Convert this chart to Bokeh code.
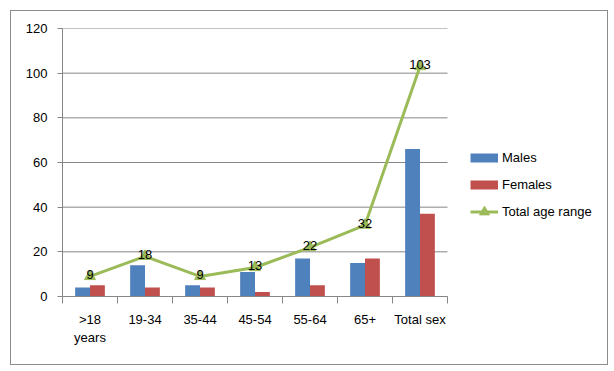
import numpy as np
from bokeh.plotting import figure
from bokeh.models import ColumnDataSource, FixedTicker, Legend, LegendItem, Range1d, InlineStyleSheet
from bokeh.core.properties import value
from bokeh.embed import file_html
from bokeh.resources import INLINE

categories = [">18\nyears", "19-34", "35-44", "45-54", "55-64", "65+", "Total sex"]
males = [4, 14, 5, 11, 17, 15, 66]
females = [5, 4, 4, 2, 5, 17, 37]
total_age_range = [9, 18, 9, 13, 22, 32, 103]
y_ticks = [0, 20, 40, 60, 80, 100, 120]

FONT = "Liberation Sans"
FS = "13px"
GRAY = "#868686"
C_M, C_F, C_T = "#4F81BD", "#C0504D", "#9BBB59"

n = len(categories)
centers = np.arange(n) + 0.5
bw = 0.27

src = ColumnDataSource(dict(
    xm=centers - bw / 2, xf=centers + bw / 2, xc=centers,
    males=males, females=females, total=total_age_range,
    lab=[str(v) for v in total_age_range],
))

W, H = 612, 369
LEFT, RIGHT_AXIS_END, TOP, BOTTOM = 62, 447, 28, 296
FRAME_RIGHT = W - 8
x_end = n * (FRAME_RIGHT - LEFT) / (RIGHT_AXIS_END - LEFT)

border_css = InlineStyleSheet(css=""":host::after { content: ""; position: absolute; left: 10px; top: 10px;
 width: 598px; height: 355px; border: 1px solid #8c8c8c; pointer-events: none; box-sizing: border-box; }""")

p = figure(width=W, height=H, output_backend="svg", toolbar_location=None,
           x_range=Range1d(0, x_end), y_range=Range1d(0, 120),
           min_border_left=LEFT, min_border_right=W - FRAME_RIGHT, min_border_top=TOP,
           min_border_bottom=H - BOTTOM, stylesheets=[border_css])
p.outline_line_color = None
p.background_fill_color = "white"
p.border_fill_color = "white"

# horizontal gridlines limited to the category span
p.xgrid.visible = False
p.ygrid.visible = False
p.segment(x0=[0] * len(y_ticks), x1=[n] * len(y_ticks), y0=y_ticks, y1=y_ticks,
          line_color=GRAY, line_width=1, level="underlay")

p.vbar(x="xm", top="males", width=bw, source=src, fill_color=C_M, line_color=None)
p.vbar(x="xf", top="females", width=bw, source=src, fill_color=C_F, line_color=None)
rl = p.line(x="xc", y="total", source=src, line_color=C_T, line_width=3)
rt = p.scatter(x="xc", y="total", source=src, marker="triangle", size=11,
               fill_color=C_T, line_color=C_T)
p.text(x="xc", y="total", text="lab", source=src, text_align="center", text_baseline="middle",
       y_offset=-2, text_font=value(FONT), text_font_size=FS, text_color="black")

# legend proxies (not drawn in the plot: NaN values)
nan = float("nan")
lm = p.line(x=[nan, nan], y=[nan, nan], line_color=C_M, line_width=9, line_cap="butt")
lf = p.line(x=[nan, nan], y=[nan, nan], line_color=C_F, line_width=9, line_cap="butt")
lt = p.scatter(x=[nan], y=[nan], marker="triangle", fill_color=C_T, line_color=C_T)

# axes
p.yaxis.ticker = FixedTicker(ticks=y_ticks)
p.yaxis.axis_line_color = GRAY
p.yaxis.major_tick_line_color = GRAY
p.yaxis.major_tick_out = 5
p.yaxis.major_tick_in = 0
p.yaxis.minor_tick_line_color = None
p.yaxis.major_label_text_font = FONT
p.yaxis.major_label_text_font_size = FS
p.yaxis.major_label_text_color = "black"
p.yaxis.major_label_standoff = 10

p.xaxis.ticker = FixedTicker(ticks=list(centers), minor_ticks=list(np.arange(n + 1)))
p.xaxis.bounds = (0, n)
p.xaxis.major_label_overrides = {float(c): lab for c, lab in zip(centers, categories)}
p.xaxis.axis_line_color = GRAY
p.xaxis.major_tick_line_color = None
p.xaxis.minor_tick_line_color = GRAY
p.xaxis.minor_tick_out = 7
p.xaxis.minor_tick_in = 0
p.xaxis.major_label_text_font = FONT
p.xaxis.major_label_text_font_size = FS
p.xaxis.major_label_text_color = "black"
p.xaxis.major_label_standoff = 8

legend = Legend(items=[
    LegendItem(label="Males", renderers=[lm]),
    LegendItem(label="Females", renderers=[lf]),
    LegendItem(label="Total age range", renderers=[rl, lt]),
], location=(408, 72))
legend.label_text_font = FONT
legend.label_text_font_size = FS
legend.label_text_color = "black"
legend.label_height = 16
legend.glyph_width = 28
legend.glyph_height = 25
legend.label_standoff = 4
legend.spacing = 2
legend.padding = 0
legend.margin = 0
legend.border_line_color = None
legend.background_fill_alpha = 0
p.add_layout(legend, "center")

open("out.html", "w").write(file_html(p, INLINE))
